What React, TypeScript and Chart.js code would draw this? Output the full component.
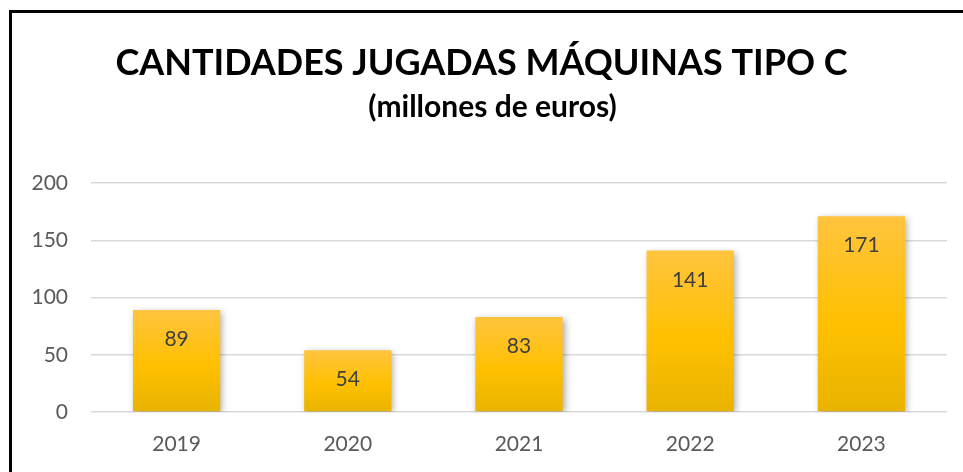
import React, { useEffect, useRef } from "react";
import { Chart, registerables } from "chart.js";

Chart.register(...registerables);

const categories: string[] = ["2019", "2020", "2021", "2022", "2023"];
const values: number[] = [89, 54, 83, 141, 171];
const yTicks: number[] = [0, 50, 100, 150, 200];
const titleText = "CANTIDADES JUGADAS MÁQUINAS TIPO C";
const subtitleText = "(millones de euros)";

const FONT = "Lato, 'Open Sans', sans-serif";

export default function App() {
  const canvasRef = useRef<HTMLCanvasElement | null>(null);

  useEffect(() => {
    const canvas = canvasRef.current;
    if (!canvas) return;

    const titlePlugin = {
      id: "titles",
      afterDraw(chart: any) {
        const ctx = chart.ctx;
        ctx.save();
        ctx.fillStyle = "#000000";
        ctx.textAlign = "center";
        ctx.textBaseline = "alphabetic";
        ctx.font = `bold 36px ${FONT}`;
        ctx.fillText(titleText, 481.5, 75);
        ctx.font = `bold 30px ${FONT}`;
        ctx.fillText(subtitleText, 492.5, 117);
        ctx.restore();
      },
    };

    const shadowPlugin = {
      id: "barShadow",
      beforeDatasetsDraw(chart: any) {
        const ctx = chart.ctx;
        ctx.save();
        ctx.shadowColor = "rgba(0,0,0,0.35)";
        ctx.shadowBlur = 7;
        ctx.shadowOffsetX = 2;
        ctx.shadowOffsetY = 2;
      },
      afterDatasetsDraw(chart: any) {
        const ctx = chart.ctx;
        ctx.restore();
        const meta = chart.getDatasetMeta(0);
        ctx.save();
        ctx.fillStyle = "#404040";
        ctx.textAlign = "center";
        ctx.textBaseline = "alphabetic";
        ctx.font = `21px ${FONT}`;
        meta.data.forEach((bar: any, i: number) => {
          ctx.fillText(String(values[i]), bar.x, bar.y + 36);
        });
        ctx.restore();
      },
    };

    const chart = new Chart(canvas, {
      type: "bar",
      data: {
        labels: categories,
        datasets: [
          {
            data: values,
            categoryPercentage: 1,
            barPercentage: 0.51,
            borderWidth: 0,
            backgroundColor: (context: any) => {
              const c = context.chart;
              const area = c.chartArea;
              if (!area) return "#FFC000";
              const yScale = c.scales.y;
              const v = context.raw as number;
              const top = yScale.getPixelForValue(v);
              const bottom = yScale.getPixelForValue(0);
              if (!isFinite(top) || !isFinite(bottom) || top === bottom) return "#FFC000";
              const g = c.ctx.createLinearGradient(0, top, 0, bottom);
              g.addColorStop(0, "#FFC43F");
              g.addColorStop(0.55, "#FFC000");
              g.addColorStop(1, "#E8B300");
              return g;
            },
          },
        ],
      },
      options: {
        animation: false,
        responsive: false,
        maintainAspectRatio: false,
        layout: {
          padding: { top: 183, right: 16, bottom: 0, left: 20 },
        },
        plugins: {
          legend: { display: false },
          title: { display: false },
          tooltip: { enabled: false },
        },
        scales: {
          x: {
            grid: { display: false },
            border: { display: false },
            ticks: {
              color: "#595959",
              font: { family: FONT, size: 21 },
              padding: 12,
            },
            afterFit(scale: any) {
              scale.height = 60;
            },
          },
          y: {
            min: 0,
            max: 200,
            afterBuildTicks(scale: any) {
              scale.ticks = yTicks.map((v) => ({ value: v }));
            },
            grid: {
              color: "#D9D9D9",
              lineWidth: 1.5,
              drawTicks: false,
            },
            border: { display: false },
            ticks: {
              color: "#595959",
              font: { family: FONT, size: 21 },
              padding: 23,
            },
            afterFit(scale: any) {
              scale.width = 71;
            },
          },
        },
      },
      plugins: [shadowPlugin, titlePlugin],
    });

    return () => {
      chart.destroy();
    };
  }, []);

  return (
    <div style={{ position: "fixed", left: 0, top: 0, width: 963, height: 472, background: "#ffffff" }}>
      <div
        style={{
          position: "absolute",
          left: 9,
          top: 10,
          right: 0,
          bottom: 0,
          borderLeft: "3px solid #000000",
          borderTop: "3px solid #000000",
        }}
      />
      <canvas
        ref={canvasRef}
        width={963}
        height={472}
        style={{ position: "absolute", left: 0, top: 0, width: 963, height: 472 }}
      />
    </div>
  );
}
